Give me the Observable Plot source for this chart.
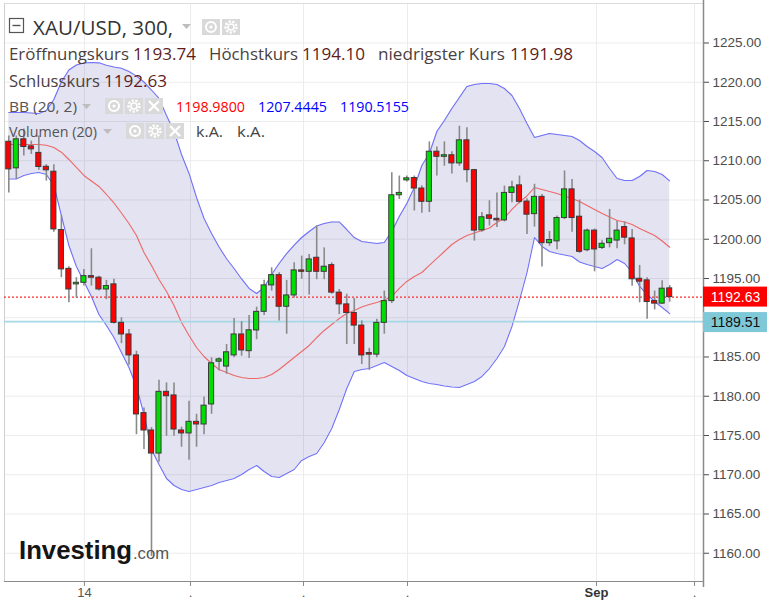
<!DOCTYPE html>
<html><head><meta charset="utf-8">
<script src="https://cdn.jsdelivr.net/npm/d3@7"></script>
<script src="https://cdn.jsdelivr.net/npm/@observablehq/plot@0.6"></script>
<style>
html,body{margin:0;padding:0;background:#fff;}
#chart{position:relative;width:767px;height:604px;overflow:hidden;}
</style></head><body><div id="chart"></div>
<script>
// ---- data ----
const open = [1212.42,1209.03,1212.73,1211.83,1211.0,1209.23,1208.6,1201.17,1196.23,1194.25,
1194.45,1195.3,1195.1,1193.6,1194.25,1189.35,1187.87,1185.2,1177.85,1175.64,
1172.7,1180.56,1180.1,1175.64,1175.26,1176.74,1176.4,1178.95,1184.4,1183.78,
1185.2,1187.87,1185.74,1188.38,1190.75,1194.12,1195.43,1191.4,1192.84,1196.03,
1195.85,1197.64,1195.85,1196.7,1193.2,1191.7,1190.6,1189.0,1185.5,1185.3,
1189.35,1192.12,1205.6,1207.5,1207.8,1206.46,1204.77,1211.15,1210.5,1210.7,
1209.66,1212.6,1208.8,1201.13,1203.04,1202.6,1202.4,1205.9,1206.86,1204.8,
1203.2,1205.4,1199.5,1199.73,1202.7,1206.35,1202.87,1198.6,1201.1,1198.9,
1199.5,1199.83,1201.55,1200.1,1194.96,1194.76,1192.12,1191.8,1193.74];
const high = [1213.15,1213.15,1214.04,1212.5,1213.15,1209.5,1209.5,1203.04,1196.5,1195.1,
1196.16,1198.78,1195.3,1194.76,1194.9,1190.0,1188.5,1185.74,1178.5,1176.0,
1182.05,1181.7,1181.7,1176.06,1179.37,1177.7,1179.9,1184.9,1184.9,1186.6,
1189.9,1189.5,1190.3,1191.35,1194.76,1196.36,1195.73,1194.76,1197.0,1197.85,
1198.07,1201.68,1198.9,1197.0,1193.6,1193.0,1192.46,1189.6,1186.1,1189.8,
1193.4,1208.47,1208.05,1208.05,1208.05,1206.8,1212.4,1211.75,1212.4,1211.15,
1214.4,1214.2,1208.9,1203.4,1204.9,1205.9,1206.77,1207.4,1208.05,1205.15,
1207.0,1205.7,1201.0,1202.95,1208.7,1207.6,1205.0,1201.3,1201.3,1199.8,
1203.8,1202.3,1202.2,1201.25,1196.66,1195.1,1193.4,1194.7,1194.10];
const low = [1205.9,1207.63,1210.6,1210.8,1208.8,1207.4,1200.9,1195.1,1191.9,1192.55,
1194.03,1194.03,1193.4,1192.3,1189.2,1186.7,1183.96,1175.1,1173.2,1159.6,
1171.6,1174.9,1174.9,1173.5,1171.85,1173.5,1175.1,1177.7,1183.2,1182.8,
1184.9,1185.1,1184.8,1187.2,1190.3,1193.4,1189.6,1187.9,1192.5,1194.9,
1192.9,1194.85,1194.85,1193.0,1190.4,1186.6,1186.6,1184.05,1183.3,1184.9,
1187.9,1191.8,1205.07,1207.3,1203.6,1203.3,1203.4,1208.05,1209.3,1208.3,
1209.3,1207.2,1199.76,1200.9,1201.7,1201.5,1202.2,1204.65,1204.5,1200.6,
1201.55,1196.45,1199.1,1198.65,1202.5,1200.9,1198.2,1198.4,1195.85,1198.7,
1198.9,1198.8,1199.3,1194.0,1191.9,1189.8,1191.0,1191.7,1191.98];
const close = [1208.9,1212.73,1211.75,1211.45,1209.2,1208.78,1201.25,1196.16,1193.6,1194.45,
1195.3,1195.1,1193.6,1194.03,1189.35,1187.87,1185.2,1177.68,1175.64,1172.7,
1180.56,1180.0,1175.76,1175.26,1176.74,1176.4,1178.8,1184.2,1184.7,1185.6,
1187.87,1185.83,1188.4,1190.75,1194.12,1195.43,1191.4,1192.84,1196.03,1195.85,
1197.43,1195.85,1196.5,1193.2,1191.7,1190.6,1189.0,1185.2,1185.3,1189.35,
1192.12,1205.6,1205.9,1207.76,1206.46,1204.77,1211.15,1210.5,1210.7,1209.66,
1212.6,1208.8,1201.1,1202.8,1202.6,1202.4,1205.9,1206.6,1204.77,1203.13,
1205.4,1199.5,1199.9,1202.7,1206.35,1202.7,1198.4,1201.1,1198.7,1199.42,
1200.06,1201.1,1200.2,1194.9,1194.6,1192.0,1191.8,1193.7,1192.63];
const bbUpper = [1216.15,1216.15,1216.15,1216.08,1216.02,1216.40,1217.80,1220.03,1221.56,1222.20,
1222.45,1222.52,1222.47,1222.17,1221.94,1221.79,1221.37,1220.78,1220.03,1219.01,
1217.93,1215.76,1213.73,1210.80,1208.38,1205.32,1202.64,1200.73,1199.01,1197.51,
1196.27,1194.94,1193.73,1193.09,1193.85,1195.51,1196.91,1198.18,1199.25,1200.22,
1200.99,1201.69,1202.01,1202.20,1202.20,1201.24,1200.22,1199.71,1199.59,1199.46,
1199.59,1200.99,1202.90,1204.55,1206.59,1209.39,1210.92,1213.73,1215.13,1216.66,
1218.06,1219.46,1219.71,1219.84,1219.84,1219.71,1219.20,1218.31,1216.66,1214.75,
1212.96,1213.22,1213.47,1213.34,1213.22,1213.09,1212.58,1211.82,1211.18,1210.41,
1209.01,1207.74,1207.48,1207.48,1207.99,1208.76,1208.63,1208.25,1207.4445];
const bbMiddle = [1212.07,1212.07,1212.07,1212.07,1212.07,1211.98,1211.69,1211.09,1210.16,1209.14,
1208.12,1207.42,1206.72,1205.70,1204.62,1203.34,1202.01,1200.48,1198.31,1196.66,
1194.87,1193.34,1191.56,1189.39,1187.74,1186.21,1185.06,1184.17,1183.41,1183.03,
1182.64,1182.39,1182.26,1182.26,1182.39,1182.77,1183.41,1184.17,1184.94,1185.70,
1186.47,1187.48,1188.38,1189.14,1189.90,1190.54,1190.92,1191.37,1191.69,1191.94,
1192.26,1192.71,1193.73,1194.62,1195.25,1195.76,1196.66,1197.55,1198.44,1199.33,
1199.97,1200.48,1200.80,1201.11,1201.43,1202.13,1202.71,1203.79,1204.75,1205.51,
1206.59,1206.34,1206.08,1205.83,1205.51,1205.19,1204.81,1204.30,1203.79,1203.28,
1202.83,1202.39,1202.20,1201.88,1201.37,1200.92,1200.48,1199.78,1198.98];
const bbLower = [1207.68,1207.68,1208.12,1208.38,1208.50,1208.25,1206.85,1203.03,1199.20,1196.53,
1194.62,1192.71,1190.41,1189.01,1187.48,1185.57,1183.66,1181.24,1177.68,1173.22,
1171.31,1169.52,1168.63,1168.12,1167.87,1168.12,1168.38,1168.63,1169.01,1169.27,
1169.52,1170.03,1170.67,1171.18,1170.41,1169.78,1169.65,1170.16,1170.67,1171.82,
1172.33,1172.71,1174.11,1175.89,1178.31,1180.99,1183.15,1183.41,1183.53,1183.92,
1184.30,1183.79,1183.28,1182.64,1182.26,1181.88,1181.62,1181.50,1181.30,1181.18,
1181.11,1181.50,1181.88,1182.52,1183.53,1184.81,1186.34,1188.89,1192.20,1195.76,
1200.22,1199.08,1198.44,1198.18,1197.99,1197.80,1197.10,1196.78,1196.53,1196.27,
1196.78,1197.42,1196.91,1195.76,1193.98,1192.96,1192.07,1191.30,1190.5155];
const yTicks = [1160,1165,1170,1175,1180,1185,1190,1195,1200,1205,1210,1215,1220,1225];
const xTickPos = [10.07, 24.19, 39.24, 53.09, 78.26, 91.31];
const xTickLabels = ["14", ".", ".", ".", "Sep", "."];
const hLineLevel = [1189.51];
const symbolTitle = "XAU/USD, 300,";

// ---- derived tables ----
const n = open.length;
const candles = open.map((o, i) => ({i, open: o, high: high[i], low: low[i], close: close[i], up: close[i] >= o}));
const band = bbUpper.map((u, i) => ({i, upper: u, middle: bbMiddle[i], lower: bbLower[i]}));
const last = candles[n - 1];
const xt = xTickPos.map((p, i) => ({p, label: xTickLabels[i]}));

const W = 767, H = 604, mL = 4, mR = 64, mT = 3, mB = 23;
const xDomain = [-0.573, 92.505];
const yDomain = [1156.4, 1230.03];
const pxX = (xDomain[1] - xDomain[0]) / (W - mL - mR);
const pxY = (yDomain[1] - yDomain[0]) / (H - mT - mB);
const tagHalf = 10 * pxY;
// axis labels hidden behind the price tags
const tagLevels = [last.close, hLineLevel[0]];
const yLabelTicks = yTicks.filter(t => tagLevels.every(l => Math.abs(t - l) > 1.6 * tagHalf));

const chart = Plot.plot({
  width: W, height: H,
  marginLeft: mL, marginRight: mR, marginTop: mT, marginBottom: mB,
  style: {fontFamily: "'Liberation Sans', Arial, sans-serif", background: "#fff", overflow: "visible"},
  x: {domain: xDomain, axis: null},
  y: {domain: yDomain, axis: null},
  marks: [
    Plot.ruleY(yTicks, {stroke: "#ececec"}),
    Plot.ruleX(xTickPos, {stroke: "#ececec"}),
    Plot.ruleX([xDomain[0]], {stroke: "#cfcfcf"}),
    Plot.ruleY([yDomain[1]], {stroke: "#dcdcdc"}),
    Plot.areaY(band, {x: "i", y1: "lower", y2: "upper", fill: "#4646a0", fillOpacity: 0.15}),
    Plot.lineY(band, {x: "i", y: "upper", stroke: "#7070f8", strokeWidth: 1.1}),
    Plot.lineY(band, {x: "i", y: "lower", stroke: "#7070f8", strokeWidth: 1.1}),
    Plot.lineY(band, {x: "i", y: "middle", stroke: "#ee6868", strokeWidth: 1.1}),
    Plot.ruleY(hLineLevel, {stroke: "#a6d8e6", strokeWidth: 1.6}),
    Plot.ruleY([last.close], {stroke: "#ff2a2a", strokeDasharray: "2,2", strokeWidth: 1.2}),
    Plot.ruleX(candles, {x: "i", y1: "low", y2: "high", stroke: "#8a8a8a", strokeWidth: 1.6}),
    Plot.rect(candles, {x1: d => d.i - 0.34, x2: d => d.i + 0.34, y1: "open", y2: "close",
      fill: d => d.up ? "#00dd00" : "#ff0000", stroke: "#3a3a3a", strokeWidth: 1}),
    // axes
    Plot.ruleY([yDomain[0]], {stroke: "#8a8a8a", strokeWidth: 1.2}),
    Plot.ruleX([xDomain[1]], {y1: yDomain[0] - 6 * pxY, y2: yDomain[1] + 3 * pxY, stroke: "#8a8a8a", strokeWidth: 1.5}),
    Plot.axisY(yLabelTicks, {anchor: "right", tickSize: 5, tickPadding: 4, tickFormat: d => d.toFixed(2),
      fontSize: 13.5, color: "#4d4d4d"}),
    Plot.axisX(xTickPos, {anchor: "bottom", tickSize: 5, tickFormat: () => "", color: "#8a8a8a"}),
    Plot.text(xt.filter(d => d.label !== "Sep"), {x: "p", frameAnchor: "bottom", dy: 15, text: "label", fontSize: 13, fill: "#555"}),
    Plot.text(xt.filter(d => d.label === "Sep"), {x: "p", frameAnchor: "bottom", dy: 15, text: "label", fontSize: 13, fontWeight: "bold", fill: "#333"}),
    // price tags
    Plot.rect([last], {x1: () => xDomain[1], x2: () => xDomain[1] + mR * pxX, y1: d => d.close - tagHalf, y2: d => d.close + tagHalf, fill: "#ff0000"}),
    Plot.text([last], {x: () => xDomain[1] + 32 * pxX, y: "close", text: d => d.close.toFixed(2), fill: "#fff", fontSize: 14}),
    Plot.rect(hLineLevel, {x1: () => xDomain[1], x2: () => xDomain[1] + mR * pxX, y1: d => d - 1.1 * tagHalf, y2: d => d + 0.9 * tagHalf, fill: "#7ec8d8"}),
    Plot.text(hLineLevel, {x: () => xDomain[1] + 32 * pxX, y: d => d - 0.1 * tagHalf, text: d => d.toFixed(2), fill: "#111", fontSize: 14})
  ]
});
document.getElementById("chart").appendChild(chart);

// ---- legend overlay ----
const svg = d3.select(chart);
const g = svg.append("g").attr("font-family", "'Open Sans', 'DejaVu Sans', sans-serif").attr("text-anchor", "start");
function txt(x, y, s, size, fill, len, weight) {
  const t = g.append("text").attr("x", x).attr("y", y).attr("font-size", size).attr("fill", fill).attr("text-anchor", "start").text(s);
  if (len) t.attr("textLength", len).attr("lengthAdjust", "spacingAndGlyphs");
  if (weight) t.attr("font-weight", weight);
  return t;
}
function caret(x, y) {
  g.append("path").attr("d", `M${x},${y} L${x + 9},${y} L${x + 4.5},${y + 5} Z`).attr("fill", "#bdbdbd");
}
function iconBox(x, y, kind) {
  g.append("rect").attr("x", x).attr("y", y).attr("width", 18).attr("height", 16).attr("fill", "#d9d9d9");
  const cx = x + 9, cy = y + 8;
  if (kind === "eye") {
    g.append("circle").attr("cx", cx).attr("cy", cy).attr("r", 5).attr("fill", "none").attr("stroke", "#fff").attr("stroke-width", 2);
    g.append("circle").attr("cx", cx).attr("cy", cy).attr("r", 1.6).attr("fill", "#fff");
  } else if (kind === "gear") {
    g.append("circle").attr("cx", cx).attr("cy", cy).attr("r", 5.5).attr("fill", "none").attr("stroke", "#fff").attr("stroke-width", 2.4).attr("stroke-dasharray", "2.2,1.6");
    g.append("circle").attr("cx", cx).attr("cy", cy).attr("r", 3).attr("fill", "none").attr("stroke", "#fff").attr("stroke-width", 1.6);
  } else {
    g.append("path").attr("d", `M${cx - 5},${cy - 5} L${cx + 5},${cy + 5} M${cx + 5},${cy - 5} L${cx - 5},${cy + 5}`).attr("stroke", "#fff").attr("stroke-width", 2.2);
  }
}
// row 1
g.append("rect").attr("x", 9.5).attr("y", 18.5).attr("width", 14).attr("height", 14).attr("fill", "none").attr("stroke", "#555").attr("stroke-width", 1.2);
g.append("path").attr("d", "M12.5,25.5 L20.5,25.5").attr("stroke", "#555").attr("stroke-width", 1.4);
txt(33, 35, symbolTitle, 19.5, "#333", 140);
caret(182, 24);
iconBox(202, 19, "eye"); iconBox(222, 19, "gear");
// row 2 + 3
const lab = "#4b3f3f", val = "#5e1d1d";
txt(9, 60, "Eröffnungskurs", 16, lab, 120);
txt(133, 60, last.open.toFixed(2), 16, val, 63);
txt(209, 60, "Höchstkurs", 16, lab, 89);
txt(302, 60, last.high.toFixed(2), 16, val, 63);
txt(378, 60, "niedrigster Kurs", 16, lab, 127);
txt(510, 60, last.low.toFixed(2), 16, val, 63);
txt(9, 87, "Schlusskurs", 16, lab, 91);
txt(104, 87, last.close.toFixed(2), 16, val, 63);
// row 4
txt(9, 112, "BB (20, 2)", 14.5, "#555", 68);
caret(82, 104);
iconBox(105, 98, "eye"); iconBox(125, 98, "gear"); iconBox(145, 98, "x");
txt(176, 112, bbMiddle[n - 1].toFixed(4), 14.5, "#ff0000", 69);
txt(258, 112, bbUpper[n - 1].toFixed(4), 14.5, "#0000ff", 69);
txt(340, 112, bbLower[n - 1].toFixed(4), 14.5, "#0000ff", 69);
// row 5
txt(9, 137, "Volumen (20)", 14.5, "#555", 88);
caret(103, 129);
iconBox(126, 123, "eye"); iconBox(146, 123, "gear"); iconBox(166, 123, "x");
txt(196, 137, "k.A.", 14.5, "#444", 27);
txt(237, 137, "k.A.", 14.5, "#444", 28);
// logo
const lg = svg.append("g").attr("font-family", "'Liberation Sans', Arial, sans-serif").attr("text-anchor", "start");
lg.append("text").attr("x", 19).attr("y", 559).attr("font-size", 25).attr("font-weight", "bold").attr("fill", "#151515")
  .attr("textLength", 113).attr("lengthAdjust", "spacingAndGlyphs").text("Investing");
lg.append("text").attr("x", 133).attr("y", 559).attr("font-size", 17).attr("fill", "#555")
  .attr("textLength", 36).attr("lengthAdjust", "spacingAndGlyphs").text(".com");
</script>
</body></html>
